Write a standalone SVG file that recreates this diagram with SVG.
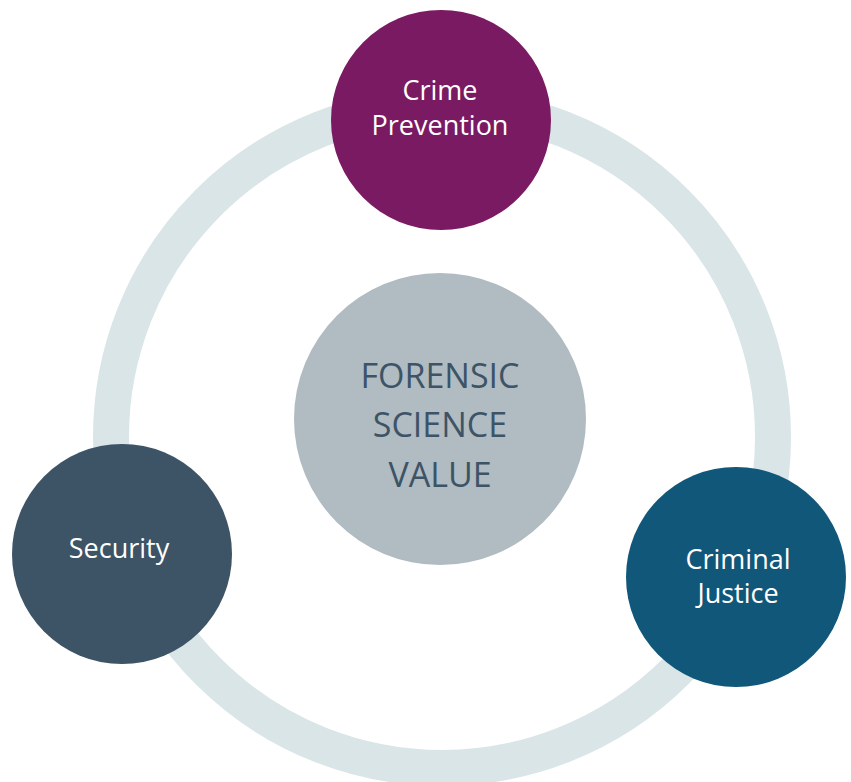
<svg xmlns="http://www.w3.org/2000/svg" width="851" height="782" viewBox="0 0 851 782">
  <style>
    .lbl { font-family: "Open Sans", "Noto Sans", "Liberation Sans", sans-serif; font-size: 27px; fill: #ffffff; text-anchor: middle; }
    .ctr { font-family: "Open Sans", "Noto Sans", "Liberation Sans", sans-serif; font-size: 34px; fill: #3d5366; text-anchor: middle; }
  </style>
  <rect width="851" height="782" fill="#ffffff"/>
  <g id="connectors">
    <circle cx="442" cy="437" r="331" fill="none" stroke="#dae5e7" stroke-width="36"/>
  </g>
  <g id="center">
    <circle cx="440" cy="419" r="146" fill="#b0bbc2"/>
    <text class="ctr" x="440" y="388">FORENSIC</text>
    <text class="ctr" x="440" y="437">SCIENCE</text>
    <text class="ctr" x="440" y="487">VALUE</text>
  </g>
  <g id="crime-prevention">
    <circle cx="441" cy="120" r="110" fill="#7a1a63"/>
    <text class="lbl" x="440" y="100">Crime</text>
    <text class="lbl" x="440" y="135">Prevention</text>
  </g>
  <g id="security">
    <circle cx="122" cy="554" r="110" fill="#3d5366"/>
    <text class="lbl" x="119" y="558">Security</text>
  </g>
  <g id="criminal-justice">
    <circle cx="736" cy="577" r="110" fill="#11577a"/>
    <text class="lbl" x="738" y="569">Criminal</text>
    <text class="lbl" x="738" y="603">Justice</text>
  </g>
</svg>
